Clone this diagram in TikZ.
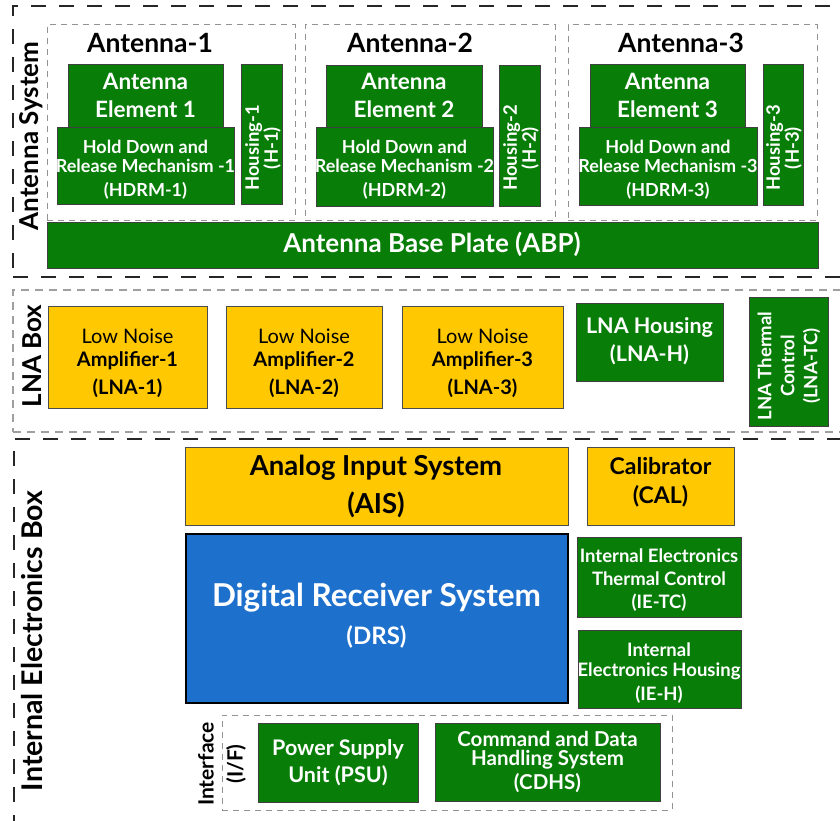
\documentclass[tikz,border=0pt]{standalone}
\usepackage{fontspec}
\setmainfont{Lato}
\definecolor{gfill}{RGB}{8,126,8}
\definecolor{yfill}{RGB}{255,200,0}
\definecolor{bfill}{RGB}{30,112,205}
\newcommand\fsz[2]{\fontsize{#1}{#2}\selectfont}
\newcommand\rbox[6]{\node[#2,minimum width={((#5)-(#3))*1pt},minimum height={((#6)-(#4))*1pt}] (#1) at ({((#3)+(#5))/2},{((#4)+(#6))/2}) {};}
\tikzset{
  blk/.style={rectangle,inner sep=0pt,line width=0.8pt},
  gbox/.style={blk,draw=black!75,fill=gfill},
  ybox/.style={blk,draw=black!70,fill=yfill},
  bbox/.style={blk,draw=black,line width=1.8pt,fill=bfill},
  outerdash/.style={blk,draw=black!85,line width=1.5pt,dash pattern=on 15pt off 13pt},
  greydash/.style={blk,draw=gray!85,line width=1pt,dash pattern=on 6pt off 5pt},
  lnadash/.style={blk,draw=gray!75,line width=1.3pt,dash pattern=on 8pt off 6pt},
  wtxt/.style={text=white,align=center,inner sep=0pt,font=\bfseries},
  ktxt/.style={text=black,align=center,inner sep=0pt,font=\bfseries},
}
\begin{document}
\begin{tikzpicture}[x=1pt,y=-1pt]
\useasboundingbox (0,0) rectangle (840,821);
\clip (0,0) rectangle (840,821);
\fill[white] (0,0) rectangle (840,821);
% containers
\rbox{antsys}{outerdash}{13}{6}{860}{277}
\rbox{lnabox}{lnadash}{13}{290}{860}{432}
\rbox{iebox}{outerdash}{14}{439}{860}{835}
\rbox{ant1}{greydash}{47}{25}{295}{220}
\rbox{ant2}{greydash}{305}{25}{555}{220}
\rbox{ant3}{greydash}{568}{25}{817}{220}
\rbox{intf}{greydash}{222}{715}{672}{810}
% container labels
\node[ktxt,rotate=90,font=\bfseries\fsz{26}{30}] (antsysl) at (31,136) {Antenna System};
\node[ktxt,rotate=90,font=\bfseries\fsz{26}{30}] (lnaboxl) at (32,356) {LNA Box};
\node[ktxt,rotate=90,font=\bfseries\fsz{28.5}{32}] (ieboxl) at (32,641) {Internal Electronics Box};
\node[ktxt,rotate=90,font=\bfseries\fsz{21}{29}] (intfl) at (222,764) {Interface\\(I/F)};
\node[ktxt,font=\bfseries\fsz{26.5}{30}] (ant1l) at (150,43) {Antenna-1};
\node[ktxt,font=\bfseries\fsz{26.5}{30}] (ant2l) at (410,43) {Antenna-2};
\node[ktxt,font=\bfseries\fsz{26.5}{30}] (ant3l) at (681,43) {Antenna-3};
% antenna 1
\rbox{ae1}{gbox}{68}{64}{223}{127}
\rbox{hd1}{gbox}{57}{127}{234}{204}
\rbox{hs1}{gbox}{241}{64}{282}{204}
% antenna 2
\rbox{ae2}{gbox}{326}{65}{482}{127}
\rbox{hd2}{gbox}{316}{127}{493}{206}
\rbox{hs2}{gbox}{499}{65}{540}{206}
% antenna 3
\rbox{ae3}{gbox}{590}{64}{745}{127}
\rbox{hd3}{gbox}{579}{127}{757}{205}
\rbox{hs3}{gbox}{763}{64}{803}{205}
\rbox{abp}{gbox}{47}{222}{818}{268}
\foreach \i/\ex/\hx/\sx in {1/145.5/145.5/263, 2/404/404.5/521, 3/667.5/668/784}{
  \node[wtxt,font=\bfseries\fsz{22.5}{28}] (ae\i t) at (\ex,95.5) {Antenna\\Element \i};
  \node[wtxt,font=\bfseries\fsz{18}{18.5}] (hd\i t) at (\hx,170) {Hold Down and\\Release Mechanism -\i\\[6pt](HDRM-\i)};
  \node[wtxt,rotate=90,font=\bfseries\fsz{18.5}{17}] (hs\i t) at (\sx,148) {Housing-\i\\(H-\i)};
}
\node[wtxt,font=\bfseries\fsz{26}{30}] (abpt) at (432,244) {Antenna Base Plate (ABP)};
% LNA box
\rbox{lna1}{ybox}{48}{306}{207}{408}
\rbox{lna2}{ybox}{226}{306}{382}{408}
\rbox{lna3}{ybox}{402}{306}{563}{408}
\rbox{lnah}{gbox}{576}{303}{723}{381}
\rbox{lnatc}{gbox}{749}{297}{828}{426}
\foreach \i/\x in {1/127.5, 2/304, 3/482.5}{
  \node[ktxt,font=\bfseries\fsz{20}{23}] (lna\i t) at (\x,363) {{\mdseries Low Noise}\\Amplifier-\i\\[5pt](LNA-\i)};
}
\node[wtxt,font=\bfseries\fsz{21.5}{28}] (lnaht) at (649.5,341) {LNA Housing\\(LNA-H)};
\node[wtxt,rotate=90,font=\bfseries\fsz{18.5}{23}] (lnatct) at (789,366) {LNA Thermal\\Control\\(LNA-TC)};
% internal electronics
\rbox{ais}{ybox}{185}{447}{568}{525}
\rbox{cal}{ybox}{587}{447}{734}{525}
\rbox{drs}{bbox}{186}{534}{568}{703}
\rbox{ietc}{gbox}{577}{537}{741}{617}
\rbox{ieh}{gbox}{578}{630}{741}{708}
\rbox{psu}{gbox}{258}{723}{418}{802}
\rbox{cdhs}{gbox}{435}{723}{660}{801}
\node[ktxt,font=\bfseries\fsz{27.5}{38}] (aist) at (376,486) {Analog Input System\\(AIS)};
\node[ktxt,font=\bfseries\fsz{23}{29}] (calt) at (660.5,482) {Calibrator\\(CAL)};
\node[wtxt,font=\bfseries\fsz{31.5}{38}] (drst) at (376.5,616) {Digital Receiver System\\{\fsz{24}{38}(DRS)}};
\node[wtxt,font=\bfseries\fsz{18.5}{23}] (ietct) at (659,580) {Internal Electronics\\Thermal Control\\(IE-TC)};
\node[wtxt,font=\bfseries\fsz{18.5}{20}] (ieht) at (659,673) {Internal\\Electronics Housing\\[4pt](IE-H)};
\node[wtxt,font=\bfseries\fsz{21.5}{27}] (psut) at (338,763) {Power Supply\\Unit (PSU)};
\node[wtxt,font=\bfseries\fsz{20.5}{19}] (cdhst) at (547.5,762) {Command and Data\\Handling System\\[4pt](CDHS)};
\end{tikzpicture}
\end{document}
